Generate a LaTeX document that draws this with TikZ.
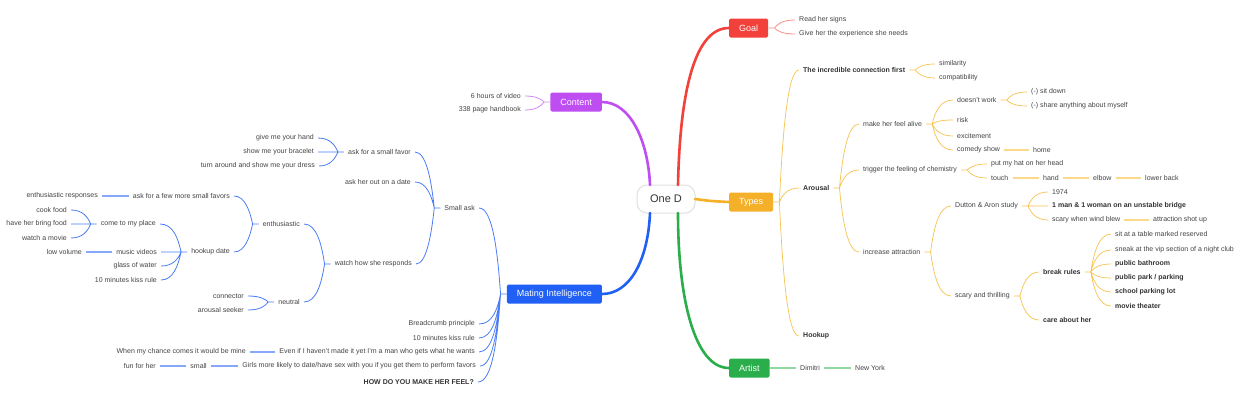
\documentclass[tikz,border=0pt]{standalone}
\usepackage{fontspec}
\setmainfont{Liberation Sans}
\usetikzlibrary{calc}
\definecolor{cred}{HTML}{F2403A}
\definecolor{lred}{HTML}{F7908A}
\definecolor{cpur}{HTML}{BE4EF2}
\definecolor{lpur}{HTML}{D38AF5}
\definecolor{corg}{HTML}{F5B02A}
\definecolor{lorg}{HTML}{F7C250}
\definecolor{corgs}{HTML}{FAD98A}
\definecolor{cblu}{HTML}{2160F5}
\definecolor{lblu}{HTML}{4A7DF5}
\definecolor{lblus}{HTML}{86A8FA}
\definecolor{cgrn}{HTML}{2AAE4C}
\definecolor{lgrn}{HTML}{8FD8A2}
\definecolor{txt}{HTML}{444444}
\tikzset{
  t/.style={font=\fontsize{7}{8}\selectfont, text=txt, inner ysep=1pt, inner xsep=4pt},
  tb/.style={t, font=\fontsize{7}{8}\selectfont\bfseries, text=black!80},
  R/.style={anchor=west}, L/.style={anchor=east},
  mbox/.style={rectangle, rounded corners=1.5pt, minimum height=19pt, inner xsep=10pt,
     text=white, font=\fontsize{9}{10}\selectfont},
  main/.style={line width=2.6pt, line cap=round},
  lr/.style={lred, line width=0.8pt},
  lo/.style={lorg, line width=0.7pt},
  los/.style={corgs, line width=1.6pt},
  lp/.style={lpur, line width=0.8pt},
  lb/.style={lblu, line width=0.8pt},
  lbs/.style={lblus, line width=1.6pt},
  lg/.style={lgrn, line width=1.6pt},
}
\newcommand\fr[4]{\draw[#1] (#2.east) -- ++(6,0) coordinate (f) foreach \c in {#4} {(f) .. controls ($(f)!0.5!(f |- \c.west)+(3,0)$) and ($(f |- \c.west)+(8,0)$) .. (\c.west)};}
\newcommand\fl[4]{\draw[#1] (#2.west) -- ++(-6,0) coordinate (f) foreach \c in {#4} {(f) .. controls ($(f)!0.5!(f |- \c.east)+(-3,0)$) and ($(f |- \c.east)+(-8,0)$) .. (\c.east)};}
\begin{document}
\begin{tikzpicture}[x=1pt,y=-1pt]
\useasboundingbox[fill=white] (0,0) rectangle (1240,400);
% center
\node[rectangle, rounded corners=10pt, draw=black!12, line width=1pt, fill=white,
  minimum width=58pt, minimum height=28pt, font=\fontsize{11}{12}\selectfont, text=black!80] (c) at (666,199) {One D};
% main boxes
\node[mbox, fill=cred, anchor=west] (goal) at (729,28) {Goal};
\node[mbox, fill=corg, anchor=west] (types) at (729,202) {Types};
\node[mbox, fill=cgrn, anchor=west] (artist) at (729,368) {Artist};
\node[mbox, fill=cpur, anchor=east] (content) at (602,102) {Content};
\node[mbox, fill=cblu, anchor=east] (mi) at (602,294) {Mating Intelligence};
% main branches
\draw[main, cred] (678,185) .. controls (680,90) and (695,28) .. (goal.west);
\draw[main, cpur] (650,185) .. controls (648,140) and (630,102) .. (content.east);
\draw[main, corg] (695,199) .. controls (710,201) .. (types.west);
\draw[main, cblu] (650,213) .. controls (648,260) and (630,294) .. (mi.east);
\draw[main, cgrn] (678,213) .. controls (678,300) and (695,368) .. (artist.west);
% Goal
\node[t,R] (g1) at (795,20) {Read her signs};
\node[t,R] (g2) at (795,34) {Give her the experience she needs};
\fr{lr}{goal}{6}{g1,g2}
% Content
\node[t,L] (c1) at (525,96) {6 hours of video};
\node[t,L] (c2) at (525,110) {338 page handbook};
\fl{lp}{content}{6}{c1,c2}
% Artist
\node[t,R] (dim) at (796,368) {Dimitri};
\node[t,R] (ny) at (851,368) {New York};
\draw[lg] (artist.east) -- (dim.west);
\draw[lg] (dim.east) -- (ny.west);
% Types
\node[tb,R] (ty1) at (799,70) {The incredible connection first};
\node[tb,R] (ty2) at (799,188) {Arousal};
\node[tb,R] (ty3) at (799,336) {Hookup};
\fr{lo}{types}{6}{ty1,ty2,ty3}
\node[t,R] (ic1) at (935,64) {similarity};
\node[t,R] (ic2) at (935,78) {compatibility};
\fr{lo}{ty1}{6}{ic1,ic2}
\node[t,R] (a1) at (859,124) {make her feel alive};
\node[t,R] (a2) at (859,170) {trigger the feeling of chemistry};
\node[t,R] (a3) at (859,252) {increase attraction};
\fr{lo}{ty2}{6}{a1,a2,a3}
\node[t,R] (m1) at (953,100) {doesn't work};
\node[t,R] (m2) at (953,120) {risk};
\node[t,R] (m3) at (953,136) {excitement};
\node[t,R] (m4) at (953,150) {comedy show};
\fr{lo}{a1}{6}{m1,m2,m3,m4}
\node[t,R] (d1) at (1027,92) {(-) sit down};
\node[t,R] (d2) at (1027,106) {(-) share anything about myself};
\fr{lo}{m1}{6}{d1,d2}
\node[t,R] (home) at (1029,150) {home};
\draw[los] (m4.east) -- (home.west);
\node[t,R] (t1) at (987,164) {put my hat on her head};
\node[t,R] (t2) at (987,178) {touch};
\fr{lo}{a2}{6}{t1,t2}
\node[t,R] (hand) at (1039,178) {hand};
\node[t,R] (elbow) at (1089,178) {elbow};
\node[t,R] (lback) at (1141,178) {lower back};
\draw[los] (t2.east) -- (hand.west);
\draw[los] (hand.east) -- (elbow.west);
\draw[los] (elbow.east) -- (lback.west);
\node[t,R] (i1) at (951,206) {Dutton \& Aron study};
\node[t,R] (i2) at (951,296) {scary and thrilling};
\fr{lo}{a3}{6}{i1,i2}
\node[t,R] (du1) at (1048,192) {1974};
\node[tb,R] (du2) at (1048,206) {1 man \& 1 woman on an unstable bridge};
\node[t,R] (du3) at (1048,220) {scary when wind blew};
\fr{lo}{i1}{6}{du1,du2,du3}
\node[t,R] (shot) at (1149,220) {attraction shot up};
\draw[los] (du3.east) -- (shot.west);
\node[tb,R] (s1) at (1039,272) {break rules};
\node[tb,R] (s2) at (1039,320) {care about her};
\fr{lo}{i2}{6}{s1,s2}
\node[t,R] (b1) at (1111,234) {sit at a table marked reserved};
\node[t,R] (b2) at (1111,250) {sneak at the vip section of a night club};
\node[tb,R] (b3) at (1111,264) {public bathroom};
\node[tb,R] (b4) at (1111,278) {public park / parking};
\node[tb,R] (b5) at (1111,292) {school parking lot};
\node[tb,R] (b6) at (1111,306) {movie theater};
\fr{lo}{s1}{6}{b1,b2,b3,b4,b5,b6}
% Mating Intelligence
\node[t,L] (mi1) at (479,208) {Small ask};
\node[t,L] (mi2) at (479,324) {Breadcrumb principle};
\node[t,L] (mi3) at (479,338) {10 minutes kiss rule};
\node[t,L] (mi4) at (479,352) {Even if I haven't made it yet I'm a man who gets what he wants};
\node[t,L] (mi5) at (480,366) {Girls more likely to date/have sex with you if you get them to perform favors};
\node[tb,L] (mi6) at (478,382) {HOW DO YOU MAKE HER FEEL?};
\fl{lb}{mi}{6}{mi1,mi2,mi3,mi4,mi5,mi6}
\node[t,L] (sa1) at (415,152) {ask for a small favor};
\node[t,L] (sa2) at (415,182) {ask her out on a date};
\node[t,L] (sa3) at (416,264) {watch how she responds};
\fl{lb}{mi1}{6}{sa1,sa2,sa3}
\node[t,L] (f1) at (318,138) {give me your hand};
\node[t,L] (f2) at (318,152) {show me your bracelet};
\node[t,L] (f3) at (319,166) {turn around and show me your dress};
\fl{lb}{sa1}{6}{f1,f2,f3}
\node[t,L] (w1) at (304,224) {enthusiastic};
\node[t,L] (w2) at (304,302) {neutral};
\fl{lb}{sa3}{6}{w1,w2}
\node[t,L] (e1) at (234,196) {ask for a few more small favors};
\node[t,L] (e2) at (234,252) {hookup date};
\fl{lb}{w1}{6}{e1,e2}
\node[t,L] (er) at (102,196) {enthusiastic responses};
\draw[lbs] (e1.west) -- (er.east);
\node[t,L] (h1) at (160,224) {come to my place};
\node[t,L] (h2) at (161,252) {music videos};
\node[t,L] (h3) at (161,266) {glass of water};
\node[t,L] (h4) at (161,280) {10 minutes kiss rule};
\fl{lb}{e2}{6}{h1,h2,h3,h4}
\node[t,L] (cm1) at (71,210) {cook food};
\node[t,L] (cm2) at (71,224) {have her bring food};
\node[t,L] (cm3) at (71,238) {watch a movie};
\fl{lb}{h1}{6}{cm1,cm2,cm3}
\node[t,L] (lv) at (86,252) {low volume};
\draw[lbs] (h2.west) -- (lv.east);
\node[t,L] (n1) at (248,296) {connector};
\node[t,L] (n2) at (248,310) {arousal seeker};
\fl{lb}{w2}{6}{n1,n2}
\node[t,L] (when) at (250,352) {When my chance comes it would be mine};
\draw[lbs] (mi4.west) -- (when.east);
\node[t,L] (small) at (211,366) {small};
\node[t,L] (fun) at (160,366) {fun for her};
\draw[lbs] (mi5.west) -- (small.east);
\draw[lbs] (small.west) -- (fun.east);
\end{tikzpicture}
\end{document}
